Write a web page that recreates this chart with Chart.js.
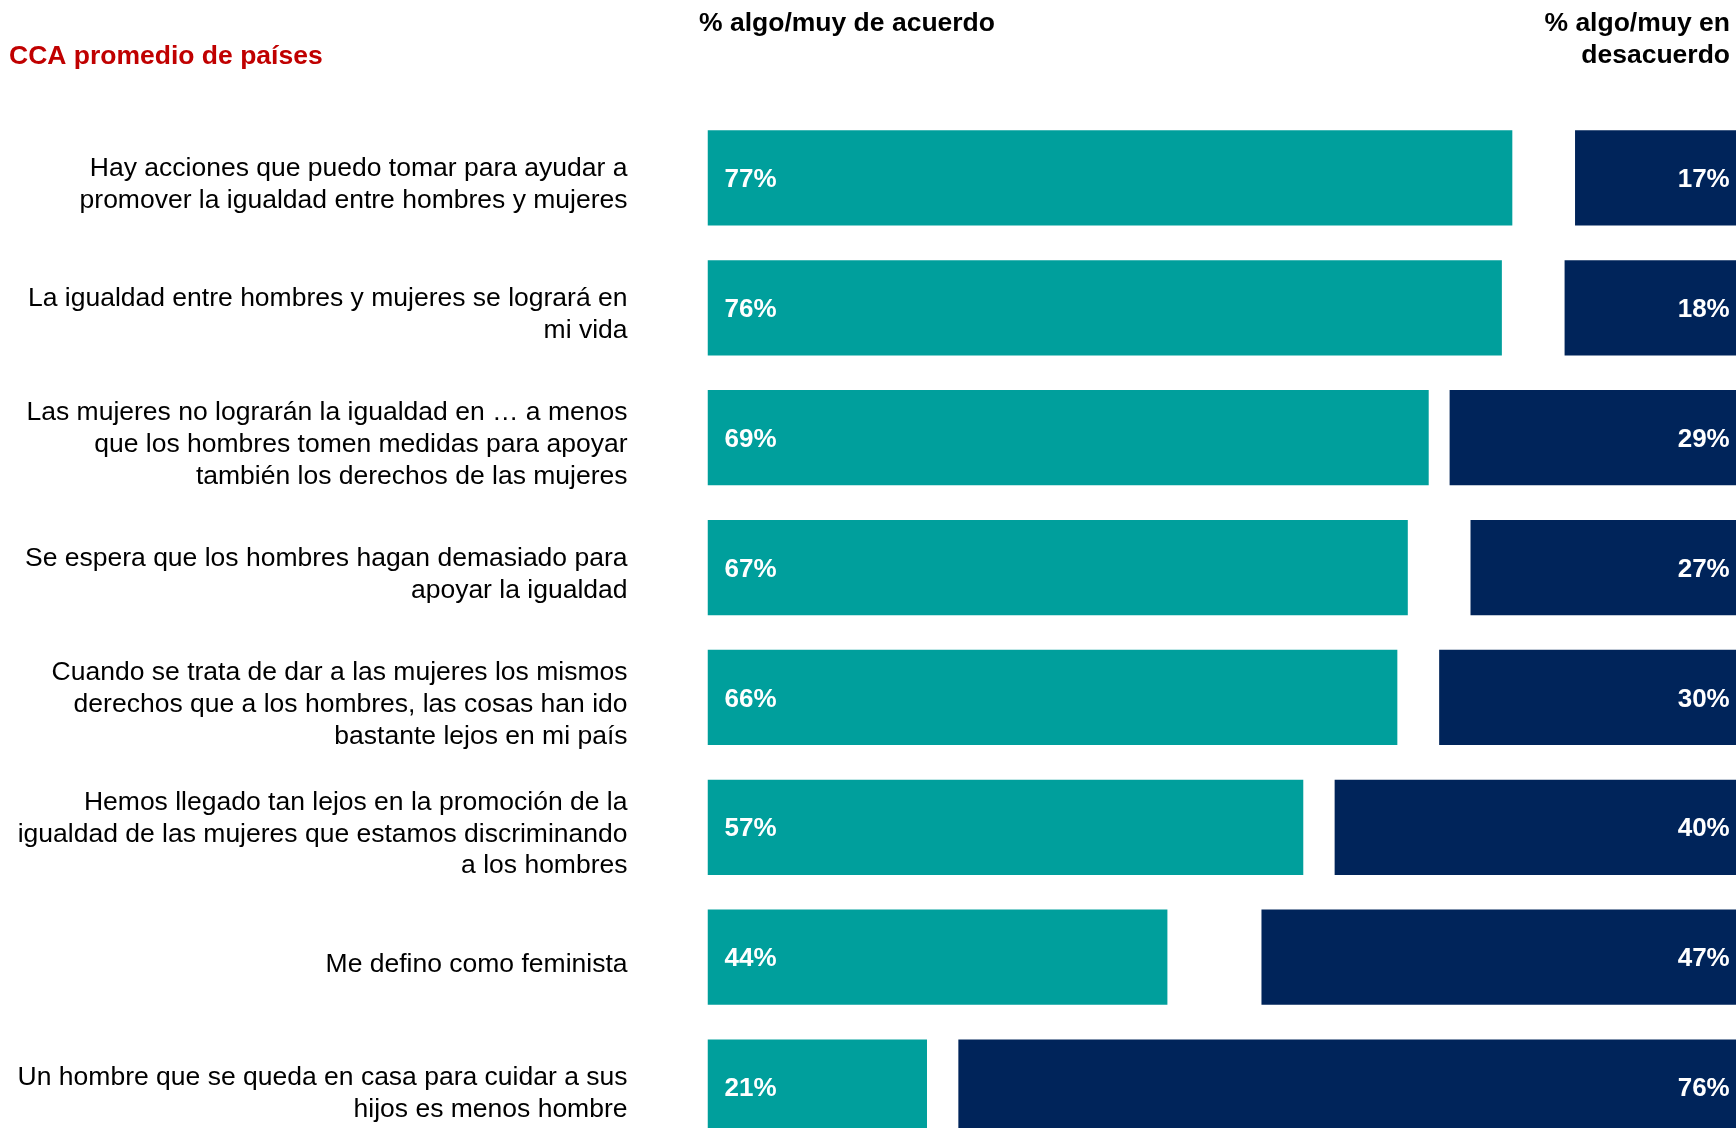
<!DOCTYPE html>
<html>
<head>
<meta charset="utf-8">
<script src="https://cdn.jsdelivr.net/npm/chart.js@4.4.1/dist/chart.umd.min.js"></script>
<style>
    html, body { margin: 0; padding: 0; background: #fff; overflow: hidden; }
    #wrap { width: 1736px; height: 1128px; overflow: hidden; }
    canvas { display: block; }
</style>
</head>
<body>
<div id="wrap"><canvas id="chart" width="1736" height="1156"></canvas></div>
<script>
// data
const statements = [
    ['Hay acciones que puedo tomar para ayudar a', 'promover la igualdad entre hombres y mujeres'],
    ['La igualdad entre hombres y mujeres se logrará en', 'mi vida'],
    ['Las mujeres no lograrán la igualdad en … a menos', 'que los hombres tomen medidas para apoyar', 'también los derechos de las mujeres'],
    ['Se espera que los hombres hagan demasiado para', 'apoyar la igualdad'],
    ['Cuando se trata de dar a las mujeres los mismos', 'derechos que a los hombres, las cosas han ido', 'bastante lejos en mi país'],
    ['Hemos llegado tan lejos en la promoción de la', 'igualdad de las mujeres que estamos discriminando', 'a los hombres'],
    ['Me defino como feminista'],
    ['Un hombre que se queda en casa para cuidar a sus', 'hijos es menos hombre']
];
const agree = [77, 76, 69, 67, 66, 57, 44, 21];
const disagree = [17, 18, 29, 27, 30, 40, 47, 76];

const TEAL = '#009F9C';
const NAVY = '#00245A';
const FONT = '"Liberation Sans", Arial, sans-serif';

// headers drawn in the top padding
const headerPlugin = {
    id: 'headers',
    afterDraw(chart) {
        const ctx = chart.ctx;
        ctx.save();
        ctx.textBaseline = 'middle';
        ctx.font = 'bold 26.5px ' + FONT;
        ctx.fillStyle = '#C00000';
        ctx.textAlign = 'left';
        ctx.fillText('CCA promedio de países', 9, 57);
        ctx.fillStyle = '#000';
        ctx.textAlign = 'center';
        ctx.fillText('% algo/muy de acuerdo', 847, 24);
        ctx.textAlign = 'right';
        ctx.fillText('% algo/muy en', 1730, 24);
        ctx.fillText('desacuerdo', 1730, 56);
        ctx.restore();
    }
};

// percentage labels inside the bars
const valuePlugin = {
    id: 'values',
    afterDatasetsDraw(chart) {
        const ctx = chart.ctx;
        const x = chart.scales.x;
        ctx.save();
        ctx.font = 'bold 26px ' + FONT;
        ctx.fillStyle = '#fff';
        ctx.textBaseline = 'middle';
        chart.getDatasetMeta(0).data.forEach((bar, i) => {
            ctx.textAlign = 'left';
            ctx.fillText(agree[i] + '%', x.getPixelForValue(0) + 17, bar.y + 2);
        });
        chart.getDatasetMeta(1).data.forEach((bar, i) => {
            ctx.textAlign = 'right';
            ctx.fillText(disagree[i] + '%', x.getPixelForValue(100) - 23, bar.y + 2);
        });
        ctx.restore();
    }
};

new Chart(document.getElementById('chart'), {
    type: 'bar',
    data: {
        labels: statements,
        datasets: [{
            data: agree,
            backgroundColor: TEAL,
            grouped: false,
            barPercentage: 0.734,
            categoryPercentage: 1
        }, {
            data: disagree.map(v => [100 - v, 100]),
            backgroundColor: NAVY,
            grouped: false,
            barPercentage: 0.734,
            categoryPercentage: 1
        }]
    },
    options: {
        indexAxis: 'y',
        responsive: false,
        animation: false,
        layout: { padding: { top: 113, right: 0, bottom: 4, left: 0 } },
        plugins: { legend: { display: false }, tooltip: { enabled: false } },
        scales: {
            x: { display: false, min: 0, max: 98.4 },
            y: {
                afterFit(scale) {
                    scale.width = 707.5;
                    scale.paddingTop = 0;
                    scale.paddingBottom = 0;
                },
                grid: { display: false, drawTicks: false },
                border: { display: false },
                ticks: {
                    color: '#000',
                    padding: 80,
                    labelOffset: 7,
                    font: { family: FONT, size: 26.5, lineHeight: 1.2 }
                }
            }
        }
    },
    plugins: [headerPlugin, valuePlugin]
});
</script>
</body>
</html>
